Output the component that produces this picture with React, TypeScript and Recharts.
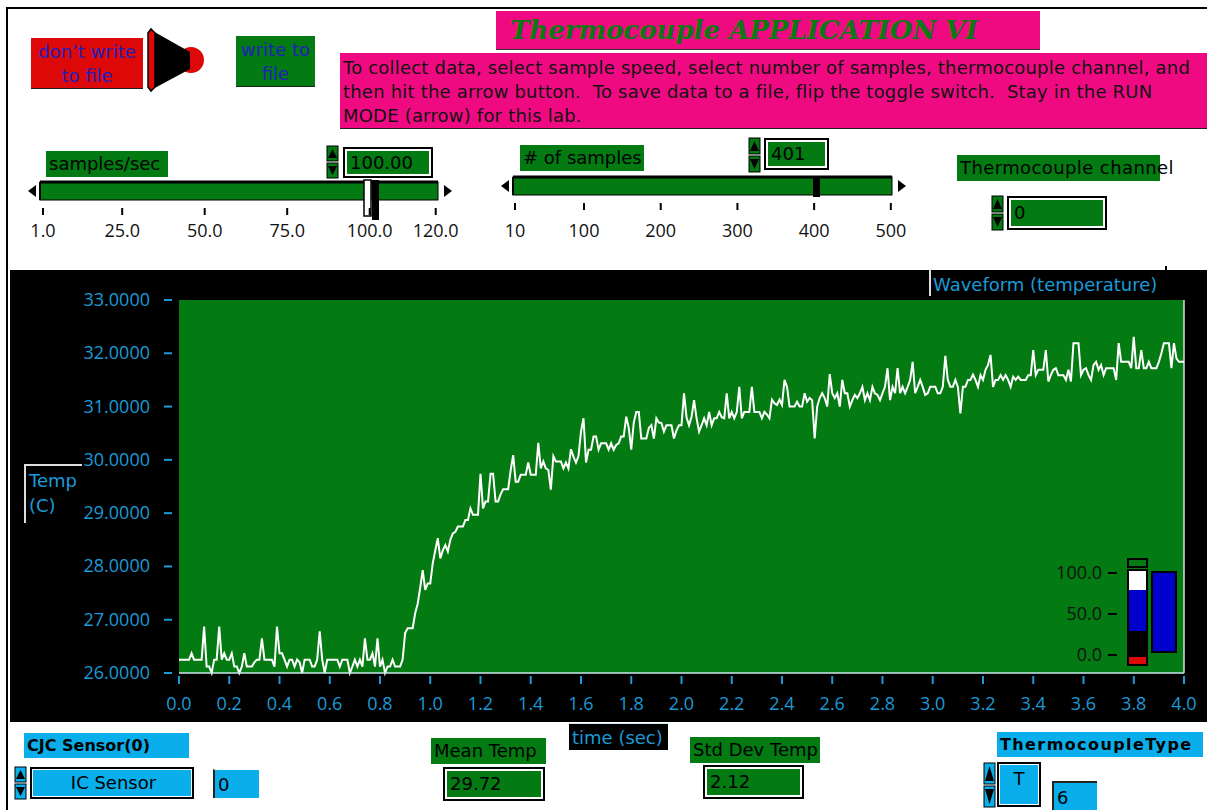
import React from 'react';
import { LineChart, Line, XAxis, YAxis, CartesianGrid, ReferenceLine } from 'recharts';

// one reading every 10 ms, 401 samples
const SAMPLE_DT = 0.01;
const temps = [
  26.25, 26.25, 26.25, 26.25, 26.25, 26.37, 26.25, 26.25, 26.25, 26.25, 26.87, 26.12, 26.12, 26.0, 26.25, 26.25, 26.87, 26.25, 26.37, 26.25,
  26.25, 26.37, 26.12, 26.12, 26.0, 26.12, 26.37, 26.12, 26.12, 26.12, 26.2, 26.25, 26.25, 26.65, 26.25, 26.25, 26.25, 26.25, 26.12, 26.87,
  26.37, 26.37, 26.25, 26.12, 26.25, 26.25, 26.12, 26.25, 26.2, 26.0, 26.25, 26.25, 26.25, 26.12, 26.12, 26.25, 26.78, 26.25, 26.0, 26.25,
  26.25, 26.25, 26.25, 26.25, 26.12, 26.25, 26.25, 26.25, 26.0, 26.12, 26.25, 26.12, 26.25, 26.12, 26.65, 26.25, 26.25, 26.37, 26.12, 26.65,
  26.12, 26.25, 26.0, 26.12, 26.12, 26.25, 26.12, 26.12, 26.12, 26.25, 26.75, 26.84, 26.84, 26.84, 27.12, 27.3, 27.6, 27.93, 27.56, 27.68,
  27.68, 28.06, 28.3, 28.53, 28.15, 28.3, 28.4, 28.28, 28.5, 28.62, 28.65, 28.75, 28.75, 28.75, 28.87, 28.87, 29.09, 28.97, 28.97, 28.97,
  29.74, 29.09, 29.22, 29.22, 29.74, 29.74, 29.22, 29.22, 29.35, 29.45, 29.45, 29.45, 29.8, 30.09, 29.59, 29.59, 29.72, 29.72, 29.72, 29.95,
  29.72, 29.72, 29.72, 30.32, 29.84, 29.97, 29.84, 29.81, 29.44, 30.07, 29.97, 29.97, 29.97, 29.84, 29.95, 29.84, 30.2, 30.06, 29.95, 30.07,
  30.53, 30.78, 29.95, 30.19, 30.19, 30.44, 30.44, 30.19, 30.31, 30.31, 30.31, 30.19, 30.31, 30.19, 30.28, 30.31, 30.44, 30.44, 30.81, 30.6,
  30.19, 30.7, 30.9, 30.9, 30.4, 30.4, 30.4, 30.6, 30.65, 30.4, 30.78, 30.7, 30.69, 30.53, 30.65, 30.65, 30.65, 30.4, 30.55, 30.65,
  30.65, 31.25, 30.8, 30.65, 30.81, 31.12, 30.78, 30.53, 30.65, 30.78, 30.65, 30.9, 30.65, 30.78, 30.78, 30.9, 30.8, 30.78, 31.25, 30.78,
  30.9, 30.78, 30.9, 31.37, 30.78, 30.9, 30.9, 30.9, 31.37, 30.9, 30.9, 30.9, 30.78, 30.9, 30.85, 30.78, 31.13, 31.06, 31.03, 31.13,
  31.03, 31.5, 31.37, 31.0, 31.0, 31.0, 31.09, 31.0, 31.0, 31.25, 31.09, 31.16, 31.12, 30.4, 31.0, 31.16, 31.25, 31.16, 31.0, 31.61,
  31.25, 31.16, 31.25, 31.0, 31.5, 31.25, 31.25, 31.0, 31.12, 31.22, 31.16, 31.25, 31.37, 31.12, 31.25, 31.12, 31.37, 31.25, 31.22, 31.12,
  31.25, 31.37, 31.72, 31.12, 31.37, 31.25, 31.72, 31.25, 31.37, 31.25, 31.37, 31.5, 31.84, 31.25, 31.37, 31.5, 31.37, 31.22, 31.25, 31.37,
  31.37, 31.37, 31.25, 31.25, 31.37, 31.95, 31.5, 31.37, 31.37, 31.5, 31.37, 30.87, 31.37, 31.37, 31.5, 31.5, 31.6, 31.5, 31.37, 31.59,
  31.5, 31.69, 31.78, 31.97, 31.37, 31.5, 31.5, 31.59, 31.5, 31.59, 31.5, 31.37, 31.56, 31.5, 31.56, 31.5, 31.5, 31.5, 31.59, 31.59,
  32.06, 31.59, 31.69, 31.69, 31.69, 32.06, 31.47, 31.59, 31.69, 31.72, 31.59, 31.59, 31.59, 31.5, 31.69, 31.47, 32.19, 32.19, 32.19, 31.59,
  31.69, 31.72, 31.59, 31.5, 31.78, 31.84, 31.69, 31.78, 31.59, 31.72, 31.72, 31.72, 31.72, 31.5, 32.19, 31.84, 31.84, 31.84, 31.84, 31.72,
  32.31, 31.72, 31.72, 32.06, 31.72, 31.72, 31.84, 31.72, 31.72, 31.72, 31.84, 32.0, 32.19, 32.19, 32.19, 31.72, 32.19, 31.9, 31.84, 31.84,
  31.84,
];
const timeTicks = [0, 0.2, 0.4, 0.6, 0.8, 1.0, 1.2, 1.4, 1.6, 1.8, 2.0, 2.2, 2.4, 2.6, 2.8, 3.0, 3.2, 3.4, 3.6, 3.8, 4.0];
const tempTicks = [26, 27, 28, 29, 30, 31, 32, 33];
const rateTicks = [1, 25, 50, 75, 100, 120];
const countTicks = [10, 100, 200, 300, 400, 500];
const gaugeTicks = [100, 50, 0];

const data = temps.map((temp, i) => ({ t: +(i * SAMPLE_DT).toFixed(2), temp }));

const AXIS_BLUE = '#1b9ad6';
const LV_GREEN = '#037a12';
const LV_CYAN = '#09aeea';
const PINK = '#f00a82';

const TempTick = ({ x, y, payload }: any) => (
  <g>
    <line x1={x - 15} x2={x - 7} y1={y} y2={y} stroke={AXIS_BLUE} strokeWidth={2} />
    <text x={x - 29} y={y + 6} textAnchor="end" fill={AXIS_BLUE} fontSize={18} fontFamily="Open Sans">
      {Number(payload.value).toFixed(4)}
    </text>
  </g>
);

const TimeTick = ({ x, y, payload }: any) => (
  <g>
    <line x1={x} x2={x} y1={y + 3} y2={y + 11} stroke={AXIS_BLUE} strokeWidth={2} />
    <text x={x} y={y + 37} textAnchor="middle" fill={AXIS_BLUE} fontSize={18} fontFamily="Open Sans">
      {Number(payload.value).toFixed(1)}
    </text>
  </g>
);

const Box = ({ x, y, w, h, bg, color = '#000', size = 18, bold = false, align = 'left', pad = 3, children, style }: any) => (
  <div
    style={{
      position: 'absolute', left: x, top: y, width: w, height: h, background: bg, color,
      fontSize: size, fontWeight: bold ? 'bold' : 'normal', textAlign: align, lineHeight: h + 'px',
      paddingLeft: pad, boxSizing: 'border-box', whiteSpace: 'nowrap', ...style,
    }}
  >
    {children}
  </div>
);

const NumBox = ({ x, y, w, h, bg, children, align = 'left', size = 18 }: any) => (
  <Box x={x} y={y} w={w} h={h} bg={bg} align={align} size={size}
    style={{ border: '2px solid #000', boxShadow: 'inset 0 0 0 2px #fff', lineHeight: h - 4 + 'px', paddingLeft: 5 }}>
    {children}
  </Box>
);

const Spinner = ({ x, y, h, fill }: any) => {
  const m = h / 2;
  return (
    <svg style={{ position: 'absolute', left: x, top: y }} width={13} height={h}>
      <rect x={1} y={1} width={11} height={m - 2} fill={fill} stroke="#000" />
      <polygon points={`6.5,4 11,${m - 4} 2,${m - 4}`} fill="#000" />
      <rect x={1} y={m + 1} width={11} height={m - 2} fill={fill} stroke="#000" />
      <polygon points={`2,${m + 4} 11,${m + 4} 6.5,${h - 4}`} fill="#000" />
    </svg>
  );
};

const Slider = ({ left, right, y, ticks, labels, thumb }: any) => (
  <svg style={{ position: 'absolute', left: 0, top: 0 }} width={1207} height={250}>
    <polygon points={`${left - 12},${y + 9} ${left - 4},${y + 3} ${left - 4},${y + 15}`} fill="#000" />
    <rect x={left} y={y} width={right - left} height={18} fill={LV_GREEN} stroke="#000" strokeWidth={1} />
    <line x1={left} x2={right} y1={y} y2={y} stroke="#000" strokeWidth={3} />
    <line x1={left} x2={left} y1={y} y2={y + 18} stroke="#000" strokeWidth={2} />
    <polygon points={`${right + 14},${y + 9} ${right + 6},${y + 3} ${right + 6},${y + 15}`} fill="#000" />
    {thumb}
    {ticks.map((tx: number, i: number) => (
      <g key={i}>
        <line x1={tx} x2={tx} y1={y + 26} y2={y + 33} stroke="#000" strokeWidth={2} />
        <text x={tx} y={237} textAnchor="middle" fontSize={18} fontFamily="Open Sans" fill="#111">
          {labels[i]}
        </text>
      </g>
    ))}
  </svg>
);

export default function App() {
  const rateX = (v: number) => 43 + (v - 1) * 3.3;
  const countX = (v: number) => 515 + (v - 10) * 0.767;
  const gaugeY = (v: number) => 655 - v * 0.82;

  return (
    <div style={{ position: 'absolute', left: 0, top: 0, width: 1207, height: 810, background: '#fff', overflow: 'hidden', fontFamily: 'DejaVu Sans' }}>
      {/* frame */}
      <div style={{ position: 'absolute', left: 6, top: 7, width: 1201, height: 2, background: '#000' }} />
      <div style={{ position: 'absolute', left: 6, top: 7, width: 2, height: 803, background: '#000' }} />

      {/* write buttons and toggle */}
      <Box x={31} y={38} w={112} h={51} bg="#dd0808" color="#2020bb" size={18} align="center" pad={0}
        style={{ lineHeight: '24px', paddingTop: 2, borderBottom: '1px solid #222' }}>
        don’t write<br />to file
      </Box>
      <svg style={{ position: 'absolute', left: 140, top: 24 }} width={70} height={72}>
        <circle cx={51} cy={36} r={13} fill="#dd0808" />
        <polygon points="11,6 50,28 50,45 11,66" fill="#000" />
        <polygon points="8,9 11,5 15,9 15,63 11,67 8,63" fill="#dd0808" stroke="#000" strokeWidth={1.5} />
      </svg>
      <Box x={236} y={36} w={79} h={51} bg={LV_GREEN} color="#2020bb" size={18} align="center" pad={0}
        style={{ lineHeight: '24px', paddingTop: 2, borderBottom: '1px solid #222' }}>
        write to<br />file
      </Box>

      {/* title and instructions */}
      <Box x={496} y={11} w={544} h={39} bg={PINK} color="#0c7a12" size={26} bold pad={14}
        style={{ fontFamily: 'DejaVu Serif', fontStyle: 'italic', borderBottom: '1px solid #333' }}>
        Thermocouple APPLICATION VI
      </Box>
      <div style={{ position: 'absolute', left: 340, top: 53, width: 867, height: 76, background: PINK, color: '#111', fontSize: 18, letterSpacing: 0.2, lineHeight: '24px', paddingLeft: 3, paddingTop: 3, boxSizing: 'border-box', whiteSpace: 'nowrap', borderBottom: '1px solid #222' }}>
        To collect data, select sample speed, select number of samples, thermocouple channel, and<br />
        then hit the arrow button.&nbsp; To save data to a file, flip the toggle switch.&nbsp; Stay in the RUN<br />
        MODE (arrow) for this lab.
      </div>

      {/* sliders */}
      <Slider left={40} right={438} y={182} labels={rateTicks.map((v) => v.toFixed(1))}
        ticks={rateTicks.map(rateX)}
        thumb={<g>
          <rect x={364} y={180} width={7} height={36} fill="#fff" stroke="#000" strokeWidth={1.5} />
          <rect x={372} y={180} width={7} height={40} fill="#000" />
        </g>} />
      <Slider left={513} right={892} y={177} labels={countTicks.map(String)}
        ticks={countTicks.map(countX)}
        thumb={<rect x={813} y={177} width={7} height={20} fill="#000" />} />

      <Box x={46} y={151} w={122} h={26} bg={LV_GREEN}>samples/sec</Box>
      <Spinner x={326} y={145} h={34} fill={LV_GREEN} />
      <NumBox x={343} y={147} w={90} h={31} bg={LV_GREEN}>100.00</NumBox>

      <Box x={520} y={145} w={124} h={26} bg={LV_GREEN}># of samples</Box>
      <Spinner x={748} y={137} h={36} fill={LV_GREEN} />
      <NumBox x={764} y={138} w={65} h={32} bg={LV_GREEN}>401</NumBox>

      <Box x={957} y={155} w={203} h={26} bg={LV_GREEN} style={{ overflow: 'visible', letterSpacing: 0.4 }}>Thermocouple channel</Box>
      <Spinner x={991} y={195} h={36} fill={LV_GREEN} />
      <NumBox x={1007} y={196} w={100} h={34} bg={LV_GREEN}>0</NumBox>

      {/* waveform panel */}
      <div style={{ position: 'absolute', left: 10, top: 270, width: 1197, height: 452, background: '#000' }} />
      <div style={{ position: 'absolute', left: 10, top: 270 }}>
        <LineChart width={1197} height={452} data={data} margin={{ top: 30, right: 23, bottom: 0, left: 0 }}>
          <CartesianGrid horizontal={false} vertical={false} fill={LV_GREEN} fillOpacity={1} stroke={LV_GREEN} />
          <XAxis dataKey="t" type="number" domain={[0, 4]} ticks={timeTicks} interval={0} height={49}
            tickSize={0} tickMargin={0} tick={<TimeTick />} axisLine={{ stroke: '#cfe6ee', strokeWidth: 1.5 }} tickLine={false} />
          <YAxis type="number" domain={[26, 33]} ticks={tempTicks} interval={0} width={169}
            tickSize={0} tickMargin={0} tick={<TempTick />} axisLine={false} tickLine={false} />
          <ReferenceLine x={4} stroke="#dddddd" strokeWidth={1.5} />
          <Line type="linear" dataKey="temp" stroke="#ffffff" strokeWidth={2} dot={false} isAnimationActive={false} />
        </LineChart>
      </div>

      {/* graph labels */}
      <div style={{ position: 'absolute', left: 929, top: 270, width: 2, height: 26, background: '#ddd' }} />
      <div style={{ position: 'absolute', left: 1165, top: 266, width: 2, height: 6, background: '#000' }} />
      <div style={{ position: 'absolute', left: 933, top: 274, color: AXIS_BLUE, fontSize: 18, whiteSpace: 'nowrap' }}>Waveform (temperature)</div>
      <div style={{ position: 'absolute', left: 24, top: 464, width: 58, height: 59, borderTop: '2px solid #ddd', borderLeft: '2px solid #ddd', boxSizing: 'border-box' }} />
      <div style={{ position: 'absolute', left: 29, top: 468, color: AXIS_BLUE, fontSize: 18, lineHeight: '25px' }}>Temp<br />(C)</div>

      {/* gauge inside the plot */}
      <svg style={{ position: 'absolute', left: 1040, top: 550 }} width={150} height={125}>
        {gaugeTicks.map((v) => (
          <g key={v}>
            <text x={62} y={gaugeY(v) - 550 + 6} textAnchor="end" fontSize={18} fontFamily="Open Sans" fill="#111">{v.toFixed(1)}</text>
            <line x1={68} x2={77} y1={gaugeY(v) - 550} y2={gaugeY(v) - 550} stroke="#000" strokeWidth={2} />
          </g>
        ))}
        <rect x={88} y={9} width={19} height={8} fill={LV_GREEN} stroke="#000" strokeWidth={2} />
        <rect x={88} y={20} width={19} height={84} fill="#000" stroke="#000" strokeWidth={2} />
        <rect x={89} y={21} width={17} height={19} fill="#fff" />
        <rect x={89} y={40} width={17} height={41} fill="#0000cc" />
        <rect x={88} y={106} width={19} height={9} fill="#dd0808" stroke="#000" strokeWidth={2} />
        <rect x={112} y={22} width={24} height={80} fill="#0000cc" stroke="#000" strokeWidth={2} />
      </svg>

      {/* bottom controls */}
      <Box x={24} y={733} w={165} h={25} bg={LV_CYAN} size={16} bold>CJC Sensor(0)</Box>
      <Spinner x={14} y={766} h={34} fill={LV_CYAN} />
      <Box x={30} y={767} w={164} h={32} bg={LV_CYAN} align="center"
        style={{ border: '2px solid #000', boxShadow: 'inset 0 0 0 1px #fff', lineHeight: '28px' }}>IC Sensor</Box>
      <Box x={213} y={769} w={46} h={29} bg={LV_CYAN} style={{ borderLeft: '2px solid #222', borderTop: '1px solid #fff' }}>0</Box>

      <Box x={431} y={738} w={115} h={26} bg={LV_GREEN}>Mean Temp</Box>
      <NumBox x={443} y={767} w={102} h={34} bg={LV_GREEN}>29.72</NumBox>

      <Box x={569} y={723} w={99} h={27} bg="#000" color={AXIS_BLUE} style={{ borderTop: '1px solid #cfe6ee' }}>time (sec)</Box>

      <Box x={690} y={737} w={130} h={26} bg={LV_GREEN}>Std Dev Temp</Box>
      <NumBox x={703} y={765} w={101} h={34} bg={LV_GREEN}>2.12</NumBox>

      <Box x={997} y={732} w={206} h={25} bg={LV_CYAN} size={16} bold style={{ letterSpacing: 1.4 }}>ThermocoupleType</Box>
      <Spinner x={983} y={762} h={46} fill={LV_CYAN} />
      <Box x={997} y={762} w={44} h={45} bg={LV_CYAN} align="center" pad={0}
        style={{ border: '2px solid #000', boxShadow: 'inset 0 0 0 1px #fff', lineHeight: '30px' }}>T</Box>
      <Box x={1052} y={781} w={45} h={29} bg={LV_CYAN} style={{ borderLeft: '2px solid #222', borderTop: '2px solid #222' }}>6</Box>
    </div>
  );
}
